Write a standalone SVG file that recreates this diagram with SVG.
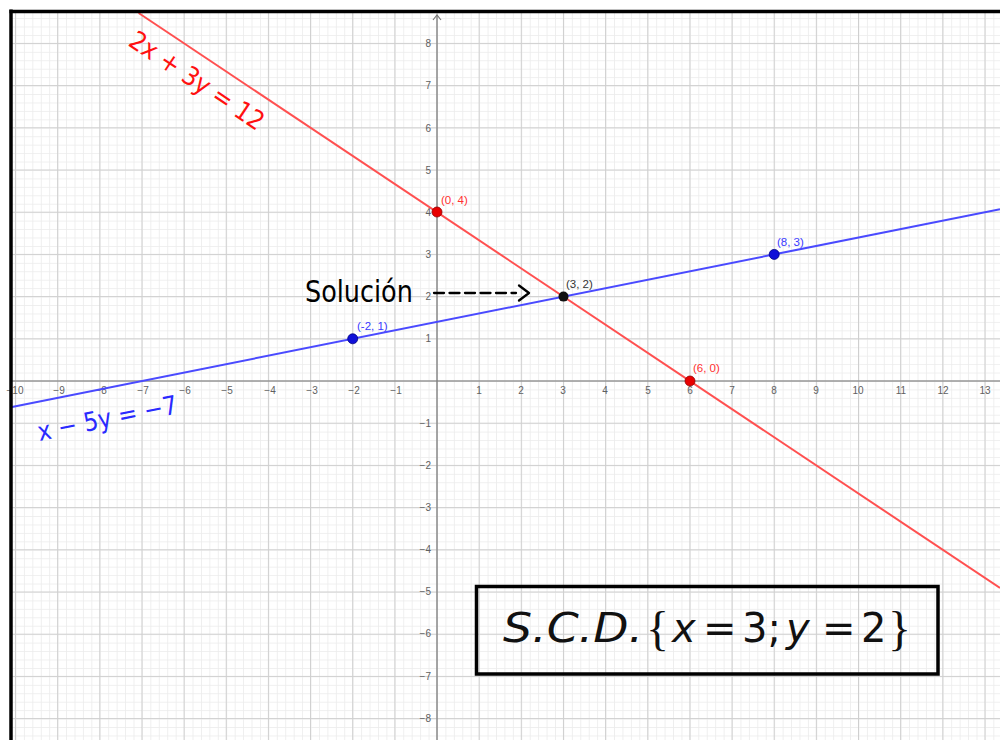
<svg xmlns="http://www.w3.org/2000/svg" width="1000" height="740" viewBox="0 0 1000 740">
<style>
.tx{font-family:"Liberation Sans",Arial,sans-serif;font-size:10px;fill:#606060}
.ty{font-family:"Liberation Sans",Arial,sans-serif;font-size:10px;fill:#606060;text-anchor:end}
.pl{font-family:"Liberation Sans",Arial,sans-serif;font-size:11.5px}
.hand{font-family:"DejaVu Sans",sans-serif}
</style>
<defs>
<pattern id="minor" patternUnits="userSpaceOnUse" x="437" y="381" width="8.43" height="8.44">
<rect x="0" y="0" width="0.8" height="8.44" fill="#ececec"/>
<rect x="0" y="0" width="8.43" height="0.8" fill="#ececec"/>
</pattern>
<pattern id="major" patternUnits="userSpaceOnUse" x="436.5" y="380.5" width="42.15" height="42.2">
<rect x="0" y="0" width="1" height="42.2" fill="#cfcfcf"/>
<rect x="0" y="0" width="42.15" height="1" fill="#cfcfcf"/>
</pattern>
</defs>
<rect width="1000" height="740" fill="#ffffff"/>
<g id="grid">
<rect x="12" y="13" width="988" height="727" fill="url(#minor)"/>
<rect x="12" y="13" width="988" height="727" fill="url(#major)"/>
</g>
<g id="axes" stroke="#7a7a7a" stroke-width="1.2" fill="none">
<line x1="12" y1="381" x2="1000" y2="381"/>
<line x1="437" y1="15" x2="437" y2="740"/>
<path d="M433,20 L437,15 L441,20"/>
</g>
<g id="xticks" class="tx" text-anchor="middle">
<text x="15" y="394">−10</text><text x="59" y="394">−9</text><text x="101" y="394">−8</text><text x="143" y="394">−7</text><text x="185" y="394">−6</text><text x="227" y="394">−5</text><text x="270" y="394">−4</text><text x="312" y="394">−3</text><text x="354" y="394">−2</text><text x="396" y="394">−1</text>
<text x="479" y="394">1</text><text x="521" y="394">2</text><text x="563" y="394">3</text><text x="605" y="394">4</text><text x="648" y="394">5</text><text x="690" y="394">6</text><text x="732" y="394">7</text><text x="774" y="394">8</text><text x="816" y="394">9</text><text x="858" y="394">10</text><text x="901" y="394">11</text><text x="943" y="394">12</text><text x="985" y="394">13</text>
</g>
<g id="yticks" class="ty">
<text x="431" y="47">8</text><text x="431" y="89">7</text><text x="431" y="132">6</text><text x="431" y="174">5</text><text x="431" y="216">4</text><text x="431" y="258">3</text><text x="431" y="300">2</text><text x="431" y="342">1</text>
<text x="431" y="427">−1</text><text x="431" y="469">−2</text><text x="431" y="511">−3</text><text x="431" y="553">−4</text><text x="431" y="595">−5</text><text x="431" y="637">−6</text><text x="431" y="680">−7</text><text x="431" y="722">−8</text>
</g>
<g id="connectors" fill="none" stroke-width="2">
<line id="red-line" x1="138.6" y1="13" x2="1000" y2="588" stroke="#ff5050"/>
<line id="blue-line" x1="12" y1="407" x2="1000" y2="209.2" stroke="#4a4aff"/>
<g id="solution-arrow" stroke="#000" stroke-width="2.3" stroke-linecap="round">
<line x1="434" y1="293" x2="516" y2="293" stroke-dasharray="10 5.5"/>
<polyline points="519,285.5 529,293 519,300.5" stroke-linejoin="round"/>
</g>
</g>
<g id="p04"><circle cx="437" cy="212" r="5" fill="#e80000" stroke="#900000" stroke-width="0.8"/><text class="pl" x="441" y="204" fill="#ff3030">(0, 4)</text></g>
<g id="p60"><circle cx="690" cy="381" r="5" fill="#e80000" stroke="#900000" stroke-width="0.8"/><text class="pl" x="693" y="372" fill="#ff3030">(6, 0)</text></g>
<g id="p32"><circle cx="563.5" cy="296.6" r="5" fill="#111111"/><text class="pl" x="566" y="288" fill="#333333">(3, 2)</text></g>
<g id="pm21"><circle cx="352.7" cy="338.8" r="5" fill="#1010d8" stroke="#000080" stroke-width="0.8"/><text class="pl" x="357" y="330" fill="#3a3aff">(-2, 1)</text></g>
<g id="p83"><circle cx="774.2" cy="254.4" r="5" fill="#1010d8" stroke="#000080" stroke-width="0.8"/><text class="pl" x="777" y="246" fill="#3a3aff">(8, 3)</text></g>
<g id="label-red"><text class="hand" x="192" y="88" font-size="26" fill="#ff1010" text-anchor="middle" textLength="156" lengthAdjust="spacingAndGlyphs" transform="rotate(33.7 192 88)">2x + 3y = 12</text></g>
<g id="label-blue"><text class="hand" x="109" y="427" font-size="26" fill="#2a2aff" text-anchor="middle" textLength="142" lengthAdjust="spacingAndGlyphs" transform="rotate(-11.3 109 427)">x − 5y = −7</text></g>
<g id="solucion">
<text class="hand" x="0" y="0" font-size="25.5" fill="#000" transform="translate(305 302) scale(1 1.15)">Solución</text>
</g>
<g id="border" stroke="#000" stroke-width="3.5" fill="none">
<line x1="11" y1="9.5" x2="11" y2="740"/>
<line x1="9.5" y1="11.5" x2="1000" y2="11.5"/>
</g>
<g id="result">
<rect x="476.5" y="586.5" width="461.5" height="87.5" fill="none" stroke="#000" stroke-width="3.5"/>
<text font-family="DejaVu Sans, sans-serif" font-size="40" fill="#111" font-style="italic" y="642"><tspan x="503" textLength="140" lengthAdjust="spacingAndGlyphs">S.C.D.</tspan><tspan x="646" font-style="normal" font-size="48" font-family="Liberation Serif, serif" dy="3">{</tspan><tspan x="672" dy="-3">x</tspan><tspan x="703" font-style="normal">=</tspan><tspan x="742" font-style="normal">3;</tspan><tspan x="786">y</tspan><tspan x="822" font-style="normal">=</tspan><tspan x="861" font-style="normal">2</tspan><tspan x="888" font-style="normal" font-size="48" font-family="Liberation Serif, serif" dy="3">}</tspan></text>
</g>
</svg>
